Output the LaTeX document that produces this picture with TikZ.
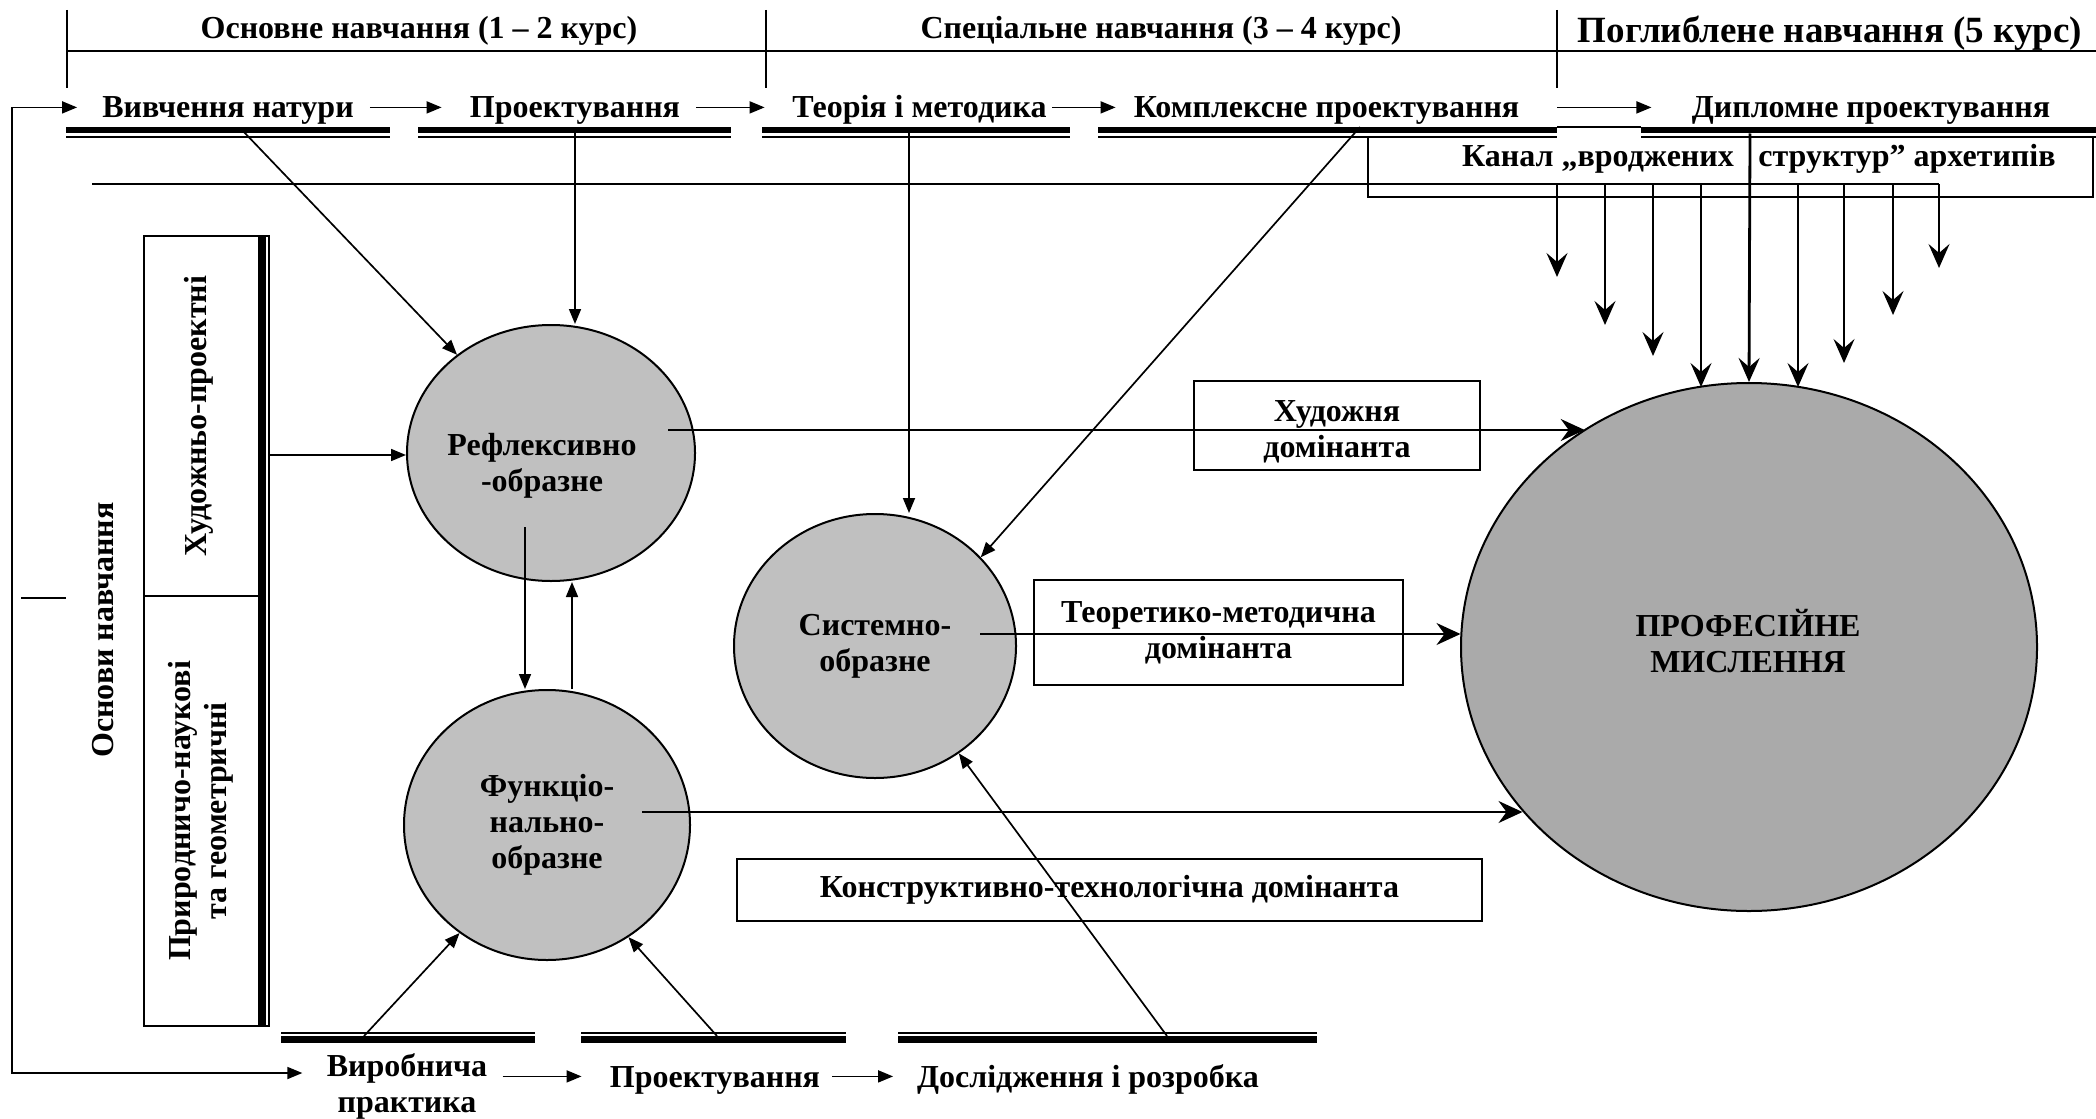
\documentclass[tikz,border=0pt]{standalone}
\usepackage{fontspec}
\setmainfont{Liberation Serif}
\usetikzlibrary{arrows.meta,shapes.geometric}
\newcommand\dgfont{\fontsize{16}{18}\selectfont\bfseries}
\newcommand\dgbig{\fontsize{18.5}{21}\selectfont\bfseries}
\definecolor{ovalgray}{RGB}{192,192,192}
\definecolor{profgray}{RGB}{170,170,170}

\begin{document}
\begin{tikzpicture}[x=0.5pt,y=-0.5pt,
  rule/.style={line width=0.85pt},
  heavy/.style={line width=3.4pt},
  box/.style={line width=1pt},
  lbl/.style={font=\dgfont, inner sep=0pt, text height=10.6pt, text depth=0pt},
  arr/.style={line width=0.85pt, -{Triangle[length=7.5pt,width=6pt]}},
  barb/.style={line width=0.9pt, -{Stealth[length=12pt,width=10.5pt,inset=4.5pt]}},
  barbL/.style={line width=0.9pt, -{Stealth[length=12pt,width=11pt,inset=4pt]}},
  oval/.style={ellipse, draw, line width=1pt, fill=ovalgray, inner sep=0pt, align=center, font=\dgfont},
  dombox/.style={draw, line width=1pt, inner sep=0pt, align=center, font=\dgfont},
  sidelbl/.style={font=\dgfont, rotate=90, align=center, inner sep=0pt},
]
\useasboundingbox (0,0) rectangle (2096,1118);

% ---- stage headers ----
\node[lbl, anchor=base] (h1) at (419,39) {Основне навчання (1 – 2 курс)};
\node[lbl, anchor=base] (h2) at (1161,39) {Спеціальне навчання (3 – 4 курс)};
\node[lbl, font=\dgbig, anchor=base] (h3) at (1830,43) {Поглиблене навчання (5 курс)};
\draw[rule] (67,51) -- (2096,51);
\foreach \x in {67,766,1557} \draw[rule] (\x,10) -- (\x,88);

% ---- upper course sequence ----
\node[lbl, anchor=base, minimum width=126.5pt] (t1) at (228,118) {Вивчення натури};
\node[lbl, anchor=base, minimum width=106pt] (t2) at (575,118) {Проектування};
\node[lbl, anchor=base, minimum width=127.5pt] (t3) at (919.5,118) {Теорія і методика};
\node[lbl, anchor=base, minimum width=200.5pt] (t4) at (1326.5,118) {Комплексне проектування};
\node[lbl, anchor=base, minimum width=178pt] (t5) at (1871,118) {Дипломне проектування};
\draw[arr, shorten <=7.5pt, shorten >=13.5pt] (t1.east) -- (t2.west);
\draw[arr, shorten <=7.5pt, shorten >=13.5pt] (t2.east) -- (t3.west);
\draw[arr, shorten <=2.5pt, shorten >=5pt] (t3.east) -- (t4.west);
\draw[arr, shorten <=15pt, shorten >=20pt] (t4.east) -- (t5.west);

% double underlines of the upper row
\foreach \a/\b in {66/390, 418/731, 762/1070, 1098/1557, 1641/2096} {
  \draw[heavy] (\a,130) -- (\b,130);
  \draw[rule] (\a,137.3) -- (\b,137.3);
}
\draw[rule] (1557,127) -- (1641,127);

% archetype channel
\draw[box] (1368,137.3) -- (1368,197) -- (2093,197) -- (2093,137.3);
\node[lbl, anchor=base] (ch1) at (1598,167) {Канал „вроджених};
\node[lbl, anchor=base] (ch2) at (1907,167) {структур” архетипів};
\draw[rule] (92,184) -- (1939,184);

% ---- left column: foundations ----
\draw[box] (144,236) rectangle (268.5,1026);
\draw[line width=3.85pt] (262,236) -- (262,1026);
\draw[box] (144,596) -- (258,596);
\node[sidelbl] (art) at (199,416) {Художньо-проектні};
\node[sidelbl] (nat) at (201,811) {Природничо-наукові\\та геометричні};
\node[sidelbl] (osn) at (103,630) {Основи навчання};
\draw[rule] (21,598) -- (66,598);

% ---- thinking types ----
\node[oval, minimum width=144pt, minimum height=128pt] (refl) at (551,453) {};
\node[font=\dgfont, align=center, inner sep=0pt] (refltext) at (542,466) {Рефлексивно\\-образне};
\node[oval, minimum width=143pt, minimum height=135pt] (func) at (547,825) {Функціо-\\нально-\\образне};
\node[oval, minimum width=141pt, minimum height=132pt] (syst) at (875,646) {Системно-\\образне};
\node[ellipse, draw, line width=1pt, fill=profgray, inner sep=0pt,
      minimum width=288pt, minimum height=264pt] (prof) at (1749,647) {};
\node[font=\dgfont, align=center, inner sep=0pt] (proftext) at (1748,641) {ПРОФЕСІЙНЕ\\МИСЛЕННЯ};

% ---- dominants ----
\node[dombox, minimum width=143pt, minimum height=44.5pt] (khud) at (1337,425.5) {\rule{0pt}{17pt}Художня\\домінанта};
\node[dombox, minimum width=184.5pt, minimum height=52.5pt] (teor) at (1218.5,632.5) {Теоретико-методична\\домінанта};
\node[dombox, minimum width=372.5pt, minimum height=31pt] (konstr) at (1109.5,890) {Конструктивно-технологічна домінанта};

% ---- lower course sequence ----
\node[font=\dgfont, align=center, inner sep=0pt, minimum width=80pt] (b1) at (407,1086) {Виробнича\\практика};
\node[lbl, anchor=base, minimum width=104pt] (b2) at (715,1087) {Проектування};
\node[lbl, anchor=base, minimum width=189.5pt] (b3) at (1088,1087) {Дослідження і розробка};
\draw[arr, shorten <=7.5pt, shorten >=14pt] (b2.west -| b1.east) -- (b2.west);
\draw[arr, shorten <=6pt, shorten >=2.5pt] (b2.east) -- (b3.west);
\foreach \a/\b in {281/535, 581/846, 898/1317} {
  \draw[rule] (\a,1033) -- (\b,1033);
  \draw[heavy] (\a,1039.5) -- (\b,1039.5);
}

% return loop on the left
\coordinate (loopx) at (12,0);
\draw[rule, {Triangle[length=7.5pt,width=6pt]}-{Triangle[length=7.5pt,width=6pt]},
      shorten <=12pt, shorten >=12pt]
  (t1.west) -- (t1.west -| loopx) -- ([yshift=6.5pt]b1.west -| loopx) -- ([yshift=6.5pt]b1.west);

% ---- connectors into the thinking types ----
\coordinate (u1) at (242,130);
\coordinate (u2) at (575,133);
\coordinate (u3) at (909,133);
\coordinate (u4) at (1360,127);
\coordinate (u5) at (1750,133.5);
\coordinate (barR) at (269,455);
\coordinate (reflDn) at (525,527);
\coordinate (upx) at (572,0);
\coordinate (d1) at (364,1036);
\coordinate (d2) at (717,1036);
\coordinate (d3) at (1167,1036);

\draw[arr] (u1) -- (refl);
\draw[arr] (u2) -- (u2 |- refl.north);
\draw[arr] (barR) -- (barR -| refl.west);
\draw[arr] (reflDn) -- (reflDn |- func.north);
\draw[arr] (upx |- func.north) -- (upx |- refl.south);
\draw[arr] (u3) -- (u3 |- syst.north);
\draw[arr] (u4) -- (syst.40);
\draw[arr] (d1) -- (func.231);
\draw[arr] (d2) -- (func.306);
\draw[arr] (d3) -- (syst.308);

% ---- connectors into professional thinking ----
\coordinate (reflOut) at (668,430);
\coordinate (systOut) at (980,634);
\coordinate (funcOut) at (642,812);
\draw[barbL] (reflOut) -- (reflOut -| prof.127);
\draw[barbL] (systOut) -- (systOut -| prof.177.4);
\draw[barbL] (funcOut) -- (funcOut -| prof.216.3);
\draw[line width=1.4pt, -{Stealth[length=12pt,width=10.5pt,inset=4.5pt]}] (u5) -- (prof.north);

\foreach \x/\y [count=\i] in {1557/277,1605/325,1653/356,1701/387,1798/387,1844/363,1893/315,1939/268} {
  \coordinate (arc\i) at (\x,184);
  \coordinate (arcend\i) at (\x,\y);
  \draw[barb] (arc\i) -- (arcend\i);
}
\end{tikzpicture}
\end{document}
